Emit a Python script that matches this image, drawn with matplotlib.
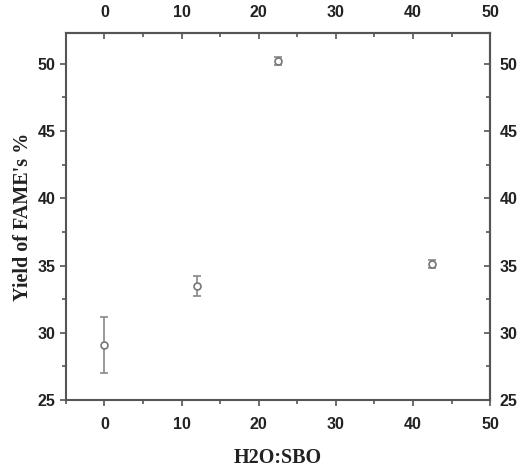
import numpy as np
import matplotlib.pyplot as plt
from matplotlib.ticker import MultipleLocator

# data
ratio = [0, 12, 22.5, 42.5]          # H2O:SBO
fame = [29.1, 33.5, 50.2, 35.1]      # yield %
err = [2.1, 0.75, 0.3, 0.3]

fig = plt.figure(figsize=(5.31, 4.70), dpi=100)
ax = fig.add_axes([0.124, 0.149, 0.799, 0.781])

ax.errorbar(ratio, fame, yerr=err, fmt='o', mfc='white', mec='#777777',
            ecolor='#888888', ms=5, mew=1.2, elinewidth=1.2, capsize=3, capthick=1.2)

ax.set_xlim(-5, 50)
ax.set_ylim(25, 52.3)
ax.xaxis.set_major_locator(MultipleLocator(10))
ax.xaxis.set_minor_locator(MultipleLocator(5))
ax.yaxis.set_major_locator(MultipleLocator(5))
ax.yaxis.set_minor_locator(MultipleLocator(2.5))

tickfont = dict(family='Liberation Sans', weight='bold', size=11.5)
for s in ax.spines.values():
    s.set_color('#555555')
    s.set_linewidth(1.5)
ax.tick_params(which='both', direction='out', color='#555555', width=1.2)
ax.tick_params(which='major', length=4)
ax.tick_params(which='minor', length=3)
ax.tick_params(axis='x', pad=8)
for lab in ax.get_xticklabels() + ax.get_yticklabels():
    lab.set_fontproperties(tickfont)
    lab.set_color('#222222')

top = ax.secondary_xaxis('top')
top.xaxis.set_major_locator(MultipleLocator(10))
top.xaxis.set_minor_locator(MultipleLocator(5))
right = ax.secondary_yaxis('right')
right.yaxis.set_major_locator(MultipleLocator(5))
right.yaxis.set_minor_locator(MultipleLocator(2.5))
for sec in (top, right):
    sec.tick_params(which='both', direction='in', color='#555555', width=1.2)
    sec.tick_params(which='major', length=4)
    sec.tick_params(which='minor', length=3)
    for s in sec.spines.values():
        s.set_color('#555555')
        s.set_linewidth(1.5)
top.tick_params(axis='x', pad=9)
right.tick_params(axis='y', pad=7)
for lab in top.get_xticklabels() + right.get_yticklabels():
    lab.set_fontproperties(tickfont)
    lab.set_color('#222222')

labfont = dict(family='Liberation Serif', weight='bold', size=14.5, color='#222222')
ax.set_xlabel('H2O:SBO', labelpad=12, **labfont)
ax.set_ylabel("Yield of FAME's %", labelpad=3, **labfont)

plt.savefig('out.png', dpi=100)
